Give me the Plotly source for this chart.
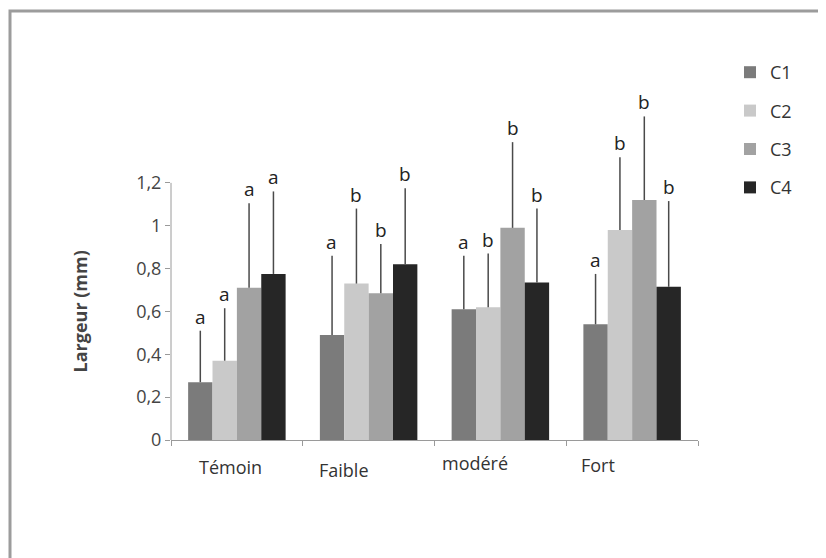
import plotly.graph_objects as go

categories = ["Témoin", "Faible", "modéré", "Fort"]
series_names = ["C1", "C2", "C3", "C4"]
c1 = [0.27, 0.49, 0.61, 0.54]
c2 = [0.37, 0.73, 0.62, 0.98]
c3 = [0.71, 0.685, 0.99, 1.12]
c4 = [0.775, 0.82, 0.735, 0.715]
c1_err = [0.24, 0.37, 0.25, 0.235]
c2_err = [0.245, 0.35, 0.25, 0.34]
c3_err = [0.395, 0.23, 0.40, 0.39]
c4_err = [0.385, 0.355, 0.345, 0.40]
c1_letters = ["a", "a", "a", "a"]
c2_letters = ["a", "b", "b", "b"]
c3_letters = ["a", "b", "b", "b"]
c4_letters = ["a", "b", "b", "b"]
y_tickvals = [0, 0.2, 0.4, 0.6, 0.8, 1.0, 1.2]
y_ticktext = ["0", "0,2", "0,4", "0,6", "0,8", "1", "1,2"]
y_title = "Largeur (mm)"

values = [c1, c2, c3, c4]
errors = [c1_err, c2_err, c3_err, c4_err]
letters = [c1_letters, c2_letters, c3_letters, c4_letters]
colors = ["#7b7b7b", "#c9c9c9", "#a2a2a2", "#262626"]

OFF = 8  # page body margin
W, H = 818, 550
ML, MR, MT, MB = 163, 128, 57, 118
PW, PH = W - ML - MR, H - MT - MB
YMAX = 1.75
FONT = "Open Sans, sans-serif"

def px_x(p):
    return (p - OFF - ML) / PW

def px_y(p):
    return (H - MB - (p - OFF)) / PH

fig = go.Figure()
for i, name in enumerate(series_names):
    fig.add_trace(go.Bar(
        x=categories, y=values[i], name=name,
        marker=dict(color=colors[i], line=dict(width=0)),
        error_y=dict(type="data", array=errors[i], arrayminus=[0] * len(categories),
                     symmetric=False, color="#4a4a4a", thickness=1.5, width=0),
        legendgroup=name,
    ))

# significance letters
offsets = [-1.5, -0.5, 0.5, 1.5]
annotations = []
for i in range(len(series_names)):
    for j, cat in enumerate(categories):
        annotations.append(dict(
            x=cat, y=values[i][j] + errors[i][j], xref="x", yref="y",
            text=letters[i][j], showarrow=False, yanchor="bottom",
            xshift=offsets[i] * 24.5, yshift=-1,
            font=dict(family=FONT, size=19, color="#222222"),
        ))

# category labels
label_shift = [-6, -25, -25, -34]
label_y = [467, 470, 463, 465]
for j, cat in enumerate(categories):
    annotations.append(dict(
        x=cat, y=px_y(label_y[j]), xref="x", yref="paper", text=cat,
        showarrow=False, xshift=label_shift[j], yanchor="middle",
        font=dict(family=FONT, size=18, color="#333333"),
    ))

# y-axis title
annotations.append(dict(
    x=px_x(80), y=0.6, xref="paper", yref="y", text="<b>" + y_title + "</b>",
    textangle=-90, showarrow=False, xanchor="center", yanchor="middle",
    font=dict(family=FONT, size=18, color="#444444"),
))

shapes = [
    dict(type="line", xref="paper", yref="y", x0=0, x1=0, y0=0, y1=1.2,
         line=dict(color="#9a9a9a", width=1)),
    dict(type="rect", xref="paper", yref="paper",
         x0=px_x(10), x1=px_x(840), y0=px_y(11), y1=px_y(570),
         line=dict(color="#9c9c9c", width=3), layer="below"),
]

fig.update_layout(
    width=W, height=H,
    margin=dict(l=ML, r=MR, t=MT, b=MB),
    paper_bgcolor="white", plot_bgcolor="white",
    barmode="group", bargap=0.26, bargroupgap=0,
    showlegend=True,
    legend=dict(x=px_x(730), y=px_y(54), xanchor="left", yanchor="top",
                font=dict(family=FONT, size=18, color="#333333"),
                tracegroupgap=12, itemwidth=30, bgcolor="rgba(0,0,0,0)"),
    xaxis=dict(showline=True, linecolor="#9a9a9a", linewidth=1,
               ticks="outside", tickson="boundaries", ticklen=5, tickcolor="#9a9a9a",
               showticklabels=False, showgrid=False, zeroline=False),
    yaxis=dict(range=[0, YMAX], tickvals=y_tickvals, ticktext=y_ticktext,
               showline=False, ticks="outside", ticklen=5, tickcolor="#9a9a9a",
               showgrid=False, zeroline=False,
               tickfont=dict(family=FONT, size=18, color="#444444")),
    annotations=annotations,
    shapes=shapes,
)

fig.write_html("out.html")
